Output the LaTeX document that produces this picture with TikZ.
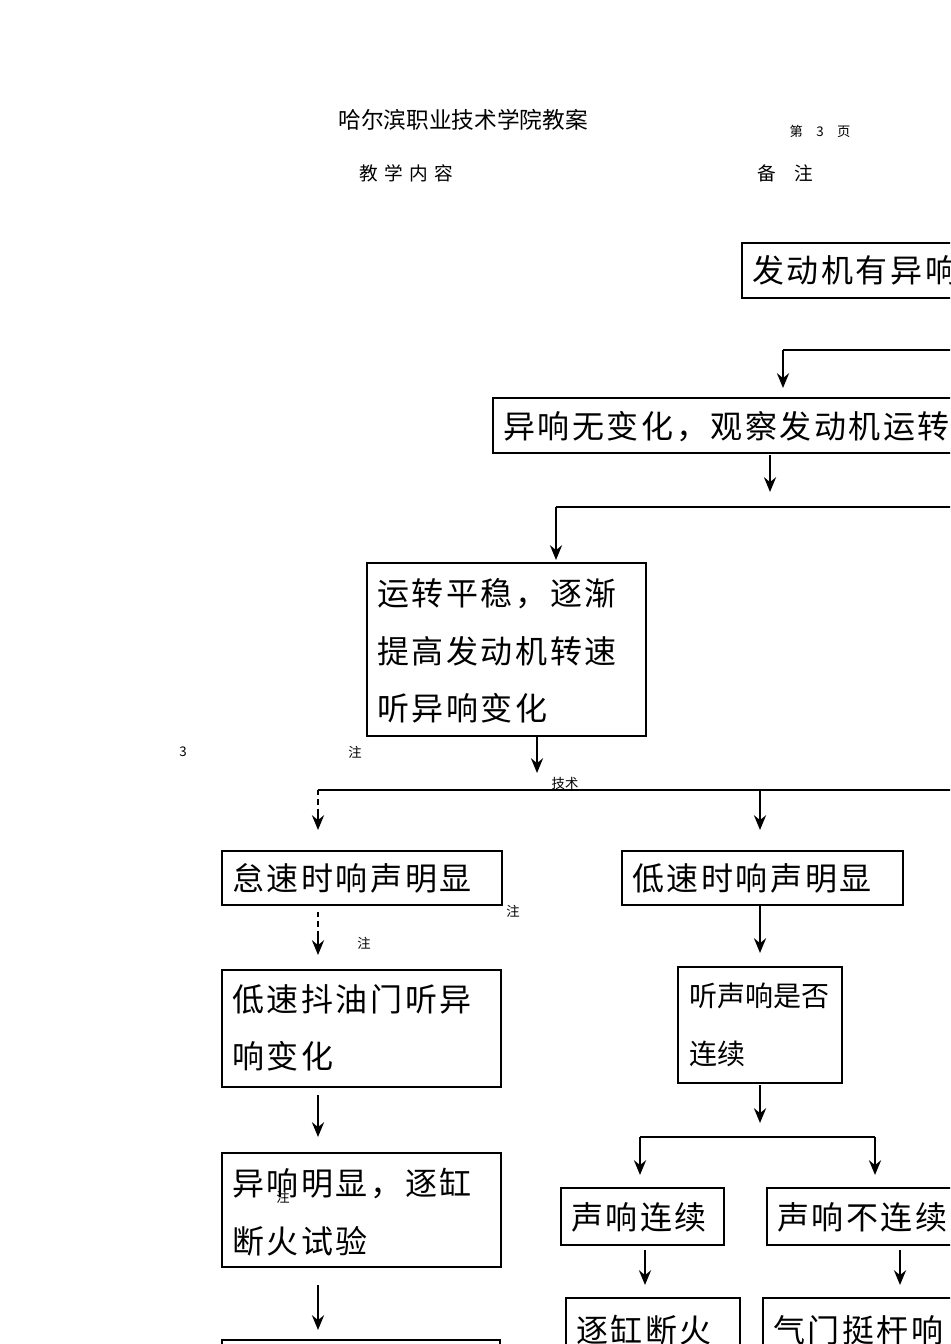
\documentclass[tikz,border=0pt]{standalone}
\usepackage{fontspec}
\setmainfont{Liberation Serif}
\newfontfamily\cjk{Noto Sans CJK SC}
\newfontfamily\cjkw[LetterSpace=8]{Noto Sans CJK SC}
\usetikzlibrary{fit,arrows.meta}
\begin{document}
\begin{tikzpicture}[x=0.75pt,y=-0.75pt,
 box/.style={draw,line width=2.2pt,inner sep=0pt,rectangle},
 txt/.style={anchor=west,align=left,inner sep=0pt,font=\cjkw\fontsize{24}{43}\selectfont},
 hd/.style={inner sep=0pt,font=\cjk\fontsize{17}{20}\selectfont},
 sm/.style={inner sep=0pt,font=\cjk\fontsize{10}{12}\selectfont},
 ln/.style={line width=1.9pt},
 arr/.style={line width=1.9pt,-{Stealth[length=11pt,width=9pt]}}]
\useasboundingbox (0,0) rectangle (950,1344);
\clip (0,0) rectangle (950,1344);
% header
\node[hd] (h1) at (463,120) {哈尔滨职业技术学院教案};
\node[sm] (h2) at (820,131) {第\quad 3\quad 页};
\node[hd,font=\cjk\fontsize{14}{16}\selectfont] (h3) at (406,173) {教\,\,学\,\,内\,\,容};
\node[hd,font=\cjk\fontsize{14}{16}\selectfont] (h4) at (785,173) {备\quad 注};
% stray marks
\node[sm] (s1) at (183,752) {3};
\node[sm] (s2) at (355,752) {注};
\node[sm] (s3) at (565,783) {技术};
\node[sm] (s4) at (513,911) {注};
\node[sm] (s5) at (364,943) {注};
\node[sm] (s6) at (283,1197) {注};
% boxes
\node[box,fit={(742,243)(1000,298)}] (b1) {};
\node[txt] (t1) at (752,270) {发动机有异响};
\node[box,fit={(493,398)(1100,453)}] (b2) {};
\node[txt] (t2) at (503,427) {异响无变化，观察发动机运转};
\node[box,fit={(367,563)(646,736)}] (b3) {};
\node[txt] (t3) at (377,651) {运转平稳，逐渐\\提高发动机转速\\听异响变化};
\node[box,fit={(222,851)(502,905)}] (b4) {};
\node[txt] (t4) at (232,878) {怠速时响声明显};
\node[box,fit={(622,851)(903,905)}] (b5) {};
\node[txt] (t5) at (632,878) {低速时响声明显};
\node[box,fit={(222,970)(501,1087)}] (b6) {};
\node[txt] (t6) at (232,1028) {低速抖油门听异\\响变化};
\node[box,fit={(678,967)(842,1083)}] (b7) {};
\node[txt,font=\cjk\fontsize{21}{43}\selectfont] (t7) at (689,1025) {听声响是否\\连续};
\node[box,fit={(222,1153)(501,1267)}] (b8) {};
\node[txt] (t8) at (232,1212) {异响明显，逐缸\\断火试验};
\node[box,fit={(561,1188)(724,1245)}] (b9) {};
\node[txt] (t9) at (571,1217) {声响连续};
\node[box,fit={(767,1188)(1000,1245)}] (b10) {};
\node[txt] (t10) at (777,1217) {声响不连续};
\node[box,fit={(222,1340)(500,1420)}] (b11) {};
\node[box,fit={(566,1298)(740,1400)}] (b12) {};
\node[txt] (t12) at (576,1330) {逐缸断火};
\node[box,fit={(763,1298)(1000,1400)}] (b13) {};
\node[txt] (t13) at (773,1330) {气门挺杆响};
% connectors
\coordinate (c1) at (783,350); \coordinate (c1r) at (960,350);
\draw[ln] (c1) -- (c1r);
\draw[arr] (c1) -- (783,388);
\draw[arr] (770,455) -- (770,492);
\coordinate (c2) at (556,507);
\draw[ln] (c2) -- (960,507);
\draw[arr] (c2) -- (556,560);
\draw[arr] (537,737) -- (537,773);
\coordinate (c3) at (318,790);
\draw[ln] (c3) -- (960,790);
\draw[line width=1.9pt,dash pattern=on 4pt off 3pt] (c3) -- (318,812);
\draw[arr] (318,812) -- (318,830);
\draw[arr] (760,790) -- (760,830);
\draw[line width=1.9pt,dash pattern=on 4pt off 3pt] (318,912) -- (318,932);
\draw[arr] (318,932) -- (318,955);
\draw[arr] (760,906) -- (760,953);
\draw[arr] (318,1095) -- (318,1137);
\draw[arr] (760,1085) -- (760,1123);
\coordinate (c4) at (640,1137);
\draw[ln] (c4) -- (875,1137);
\draw[arr] (c4) -- (640,1175);
\draw[arr] (875,1137) -- (875,1175);
\draw[arr] (318,1285) -- (318,1330);
\draw[arr] (645,1250) -- (645,1285);
\draw[arr] (900,1250) -- (900,1285);
\end{tikzpicture}
\end{document}
